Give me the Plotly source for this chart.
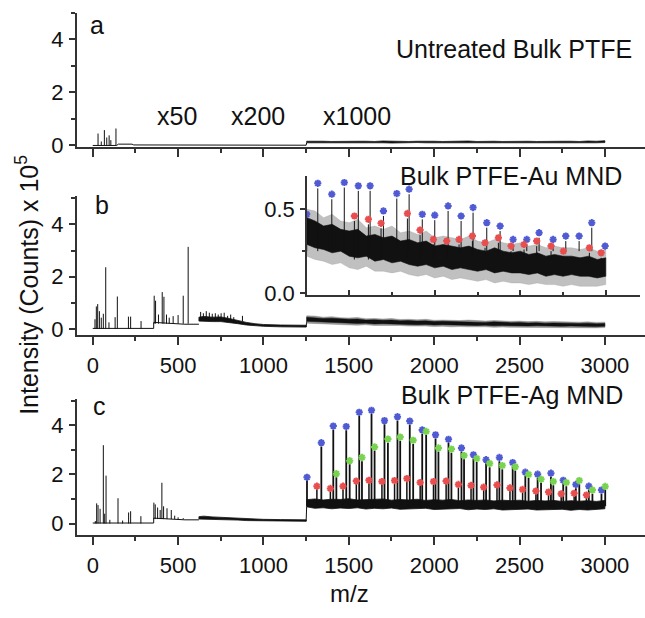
import plotly.graph_objects as go

W, H = 645, 618

# ---------------- data ----------------
# common m/z grid for noisy high-mass segments (x1000 region)
hm_mz = [1253, 1300, 1350, 1400, 1450, 1500, 1550, 1600, 1650, 1700, 1750, 1800,
         1850, 1900, 1950, 2000, 2050, 2100, 2150, 2200, 2250, 2300, 2350, 2400,
         2450, 2500, 2550, 2600, 2650, 2700, 2750, 2800, 2850, 2900, 2950, 3000]

# mid-mass (x200) grid
mm_mz = [622, 650, 700, 750, 800, 850, 900, 950, 1000, 1100, 1200, 1250]

# --- panel a: untreated bulk PTFE ---
a_base_x = [0, 140, 150, 230, 240, 357, 362, 622, 628, 1250]
a_base_y = [0.0, 0.0, 0.05, 0.05, 0.02, 0.02, 0.03, 0.03, 0.01, 0.01]
a_peak_mz = [31, 50, 68, 82, 96, 106, 136]
a_peak_h = [0.45, 0.15, 0.58, 0.30, 0.38, 0.20, 0.64]
a_hi = [0.16, 0.17, 0.16, 0.15, 0.16, 0.17, 0.16, 0.16, 0.15, 0.17, 0.16, 0.16,
        0.15, 0.16, 0.17, 0.16, 0.15, 0.16, 0.16, 0.17, 0.15, 0.16, 0.16, 0.15,
        0.16, 0.17, 0.16, 0.15, 0.16, 0.17, 0.16, 0.16, 0.15, 0.17, 0.16, 0.18]
a_lo = [0.10, 0.10, 0.11, 0.10, 0.09, 0.10, 0.10, 0.11, 0.10, 0.10, 0.09, 0.10,
        0.10, 0.11, 0.10, 0.09, 0.10, 0.10, 0.11, 0.10, 0.10, 0.09, 0.10, 0.10,
        0.11, 0.10, 0.10, 0.09, 0.10, 0.10, 0.11, 0.10, 0.10, 0.09, 0.10, 0.11]

# --- panel b: bulk PTFE-Au MND ---
b_base_x = [0, 357, 357, 450, 540, 622]
b_base_y = [0.02, 0.02, 0.25, 0.20, 0.18, 0.18]
b_peak_mz = [13, 21, 29, 39, 50, 62, 76, 95, 131, 144, 209, 222, 283,
             360, 368, 385, 407, 417, 432, 448, 471, 500, 530, 559,
             632, 648, 665, 683, 700, 718, 735, 752, 770, 790, 808, 826, 877]
b_peak_h = [0.37, 0.86, 0.95, 0.68, 0.43, 0.58, 2.36, 0.25, 0.45, 1.24, 0.47, 0.47, 0.30,
            1.27, 1.08, 0.55, 1.41, 1.23, 0.55, 0.43, 0.49, 0.53, 1.27, 3.14,
            0.65, 0.60, 0.68, 0.62, 0.58, 0.60, 0.55, 0.60, 0.62, 0.50, 0.55, 0.45, 0.50]
b_mm_lo = [0.30, 0.30, 0.28, 0.28, 0.25, 0.20, 0.15, 0.12, 0.10, 0.08, 0.07, 0.07]
b_mm_hi = [0.45, 0.48, 0.45, 0.46, 0.40, 0.32, 0.25, 0.20, 0.17, 0.15, 0.14, 0.14]

# high-mass Au spectrum (shown in panel b and in the inset)
au_core_lo = [0.29, 0.27, 0.26, 0.24, 0.25, 0.22, 0.21, 0.22, 0.19, 0.20, 0.18, 0.19,
              0.17, 0.16, 0.17, 0.15, 0.16, 0.14, 0.15, 0.14, 0.13, 0.14, 0.12, 0.13,
              0.12, 0.12, 0.11, 0.12, 0.10, 0.11, 0.10, 0.11, 0.10, 0.10, 0.09, 0.10]
au_core_hi = [0.45, 0.43, 0.40, 0.41, 0.38, 0.37, 0.38, 0.34, 0.35, 0.33, 0.34, 0.31,
              0.32, 0.30, 0.31, 0.28, 0.29, 0.28, 0.27, 0.28, 0.26, 0.25, 0.27, 0.25,
              0.24, 0.25, 0.23, 0.24, 0.22, 0.23, 0.22, 0.22, 0.21, 0.22, 0.20, 0.21]
au_grey_lo = [0.22, 0.20, 0.19, 0.17, 0.18, 0.15, 0.14, 0.16, 0.13, 0.13, 0.12, 0.13,
              0.11, 0.10, 0.11, 0.09, 0.10, 0.08, 0.09, 0.08, 0.07, 0.08, 0.06, 0.07,
              0.06, 0.06, 0.05, 0.06, 0.05, 0.05, 0.04, 0.05, 0.04, 0.04, 0.04, 0.05]
au_grey_hi = [0.50, 0.49, 0.45, 0.47, 0.43, 0.42, 0.44, 0.39, 0.40, 0.38, 0.40, 0.36,
              0.37, 0.35, 0.37, 0.33, 0.34, 0.33, 0.32, 0.34, 0.31, 0.30, 0.32, 0.30,
              0.29, 0.30, 0.28, 0.29, 0.27, 0.28, 0.27, 0.27, 0.26, 0.27, 0.25, 0.26]
au_blue_mz = [1251, 1316, 1398, 1471, 1553, 1622, 1700, 1778, 1850, 1927, 2000, 2078,
              2154, 2224, 2304, 2382, 2458, 2538, 2610, 2692, 2766, 2844, 2918, 2996]
au_blue_y = [0.47, 0.655, 0.59, 0.66, 0.64, 0.64, 0.49, 0.594, 0.62, 0.47, 0.465, 0.52,
             0.46, 0.51, 0.42, 0.40, 0.32, 0.32, 0.36, 0.32, 0.34, 0.34, 0.42, 0.28]
au_red_mz = [1530, 1612, 1686, 1840, 1914, 1992, 2070, 2142, 2220, 2294, 2372, 2446,
             2522, 2596, 2680, 2752, 2904, 2973]
au_red_y = [0.46, 0.44, 0.416, 0.475, 0.376, 0.32, 0.31, 0.32, 0.34, 0.30, 0.33, 0.28,
            0.29, 0.31, 0.28, 0.25, 0.27, 0.24]

# --- panel c: bulk PTFE-Ag MND ---
c_base_x = [0, 357, 357, 450, 540, 622]
c_base_y = [0.02, 0.02, 0.22, 0.18, 0.15, 0.15]
c_peak_mz = [15, 23, 31, 43, 62, 70, 78, 100, 148, 175, 210, 222, 282,
             358, 366, 380, 395, 405, 415, 435, 460, 480, 500, 530]
c_peak_h = [0.10, 0.82, 0.75, 0.60, 3.19, 0.40, 1.95, 0.15, 1.03, 0.12, 0.45, 0.50, 0.30,
            0.85, 0.78, 0.65, 0.55, 1.66, 0.70, 0.62, 0.55, 0.32, 0.25, 0.22]
c_mm_lo = [0.18, 0.20, 0.18, 0.17, 0.15, 0.14, 0.12, 0.11, 0.10, 0.10, 0.09, 0.09]
c_mm_hi = [0.28, 0.30, 0.27, 0.25, 0.23, 0.21, 0.19, 0.18, 0.17, 0.16, 0.16, 0.15]
ag_lo = [0.68, 0.62, 0.64, 0.60, 0.63, 0.61, 0.64, 0.59, 0.62, 0.60, 0.63, 0.58,
         0.61, 0.60, 0.62, 0.57, 0.60, 0.59, 0.61, 0.56, 0.59, 0.57, 0.60, 0.55,
         0.58, 0.57, 0.59, 0.55, 0.57, 0.56, 0.58, 0.54, 0.57, 0.55, 0.56, 0.60]
ag_hi = [0.97, 1.00, 0.96, 0.99, 0.98, 1.01, 0.96, 0.98, 0.97, 1.00, 0.95, 0.98,
         0.96, 0.99, 0.94, 0.97, 0.95, 0.98, 0.93, 0.96, 0.94, 0.96, 0.92, 0.95,
         0.93, 0.95, 0.91, 0.94, 0.92, 0.94, 0.90, 0.93, 0.91, 0.93, 0.90, 0.94]
ag_blue_mz = [1255, 1339, 1409, 1485, 1561, 1633, 1709, 1785, 1857, 1930, 2008, 2084,
              2160, 2230, 2304, 2382, 2460, 2534, 2606, 2684, 2756, 2830, 2906, 2980]
ag_blue_y = [1.88, 3.29, 3.97, 3.95, 4.53, 4.61, 4.19, 4.35, 4.17, 3.81, 3.61, 3.43,
             3.08, 2.80, 2.60, 2.69, 2.48, 2.09, 2.01, 2.05, 1.76, 1.59, 1.52, 1.36]
ag_green_mz = [1427, 1505, 1577, 1651, 1729, 1801, 1877, 1953, 2025, 2101, 2175, 2249,
               2325, 2399, 2475, 2553, 2626, 2698, 2774, 2850, 2927, 3002]
ag_green_y = [2.03, 2.56, 2.69, 3.12, 3.44, 3.52, 3.39, 3.75, 3.08, 3.03, 2.77, 2.65,
              2.44, 2.36, 2.31, 2.00, 1.80, 1.71, 1.67, 1.75, 1.36, 1.51]
ag_red_mz = [1313, 1392, 1466, 1544, 1618, 1694, 1768, 1840, 1918, 1996, 2070, 2142,
             2216, 2290, 2368, 2444, 2518, 2596, 2670, 2744, 2820, 2892]
ag_red_y = [1.52, 1.43, 1.52, 1.73, 1.76, 1.71, 1.75, 1.83, 1.67, 1.71, 1.73, 1.59,
            1.55, 1.48, 1.57, 1.45, 1.39, 1.32, 1.28, 1.21, 1.23, 1.16]

x_ticks = [0, 500, 1000, 1500, 2000, 2500, 3000]

# ---------------- colours / styles ----------------
BLUE = "rgb(80,90,210)"
RED = "rgb(232,78,78)"
GREEN = "rgb(120,212,80)"
INK = "#111111"
AX = "#333333"
FONT = "Liberation Sans, Arial, sans-serif"

fig = go.Figure()


def line(xa, ya, xs, ys, width=1.0, color=INK):
    fig.add_trace(go.Scatter(x=xs, y=ys, mode="lines", xaxis=xa, yaxis=ya,
                             line=dict(color=color, width=width), hoverinfo="skip",
                             showlegend=False))


def band(xa, ya, mz, lo, hi, color, width=0.8):
    xs = list(mz) + list(mz)[::-1] + [mz[0]]
    ys = list(hi) + list(lo)[::-1] + [hi[0]]
    fig.add_trace(go.Scatter(x=xs, y=ys, mode="lines", fill="toself", fillcolor=color,
                             xaxis=xa, yaxis=ya, line=dict(color=color, width=width),
                             hoverinfo="skip", showlegend=False))


def sticks(xa, ya, mz, bottoms, tops, width=1.0, color=INK):
    xs, ys = [], []
    for m, b, t in zip(mz, bottoms, tops):
        xs += [m, m, None]
        ys += [b, t, None]
    line(xa, ya, xs, ys, width, color)


def stars(xa, ya, mz, yv, color, size=6):
    fig.add_trace(go.Scatter(x=mz, y=yv, mode="markers", xaxis=xa, yaxis=ya,
                             marker=dict(symbol="asterisk-open", size=size, color=color,
                                         line=dict(color=color, width=2)),
                             hoverinfo="skip", showlegend=False))


def seg_bottom(m, levels):
    # baseline level of the segment a peak sits in (styling only)
    if m < 357:
        return levels[0]
    if m < 622:
        return levels[1]
    if m < 1250:
        return levels[2]
    return levels[3]


# ---------------- panel a ----------------
line("x", "y", a_base_x + [1253], a_base_y + [a_lo[0]], 1.0)
sticks("x", "y", a_peak_mz, [0] * len(a_peak_mz), a_peak_h, 1.0)
band("x", "y", hm_mz, a_lo, a_hi, INK, 0.7)

# ---------------- panel b ----------------
line("x2", "y2", b_base_x, b_base_y, 1.0)
band("x2", "y2", mm_mz, b_mm_lo, b_mm_hi, INK, 0.8)
line("x2", "y2", [1250, 1253], [b_mm_lo[-1], au_core_lo[0]], 1.0)
sticks("x2", "y2", b_peak_mz, [seg_bottom(m, [0.0, 0.2, 0.3, 0.3]) for m in b_peak_mz],
       b_peak_h, 1.0)
band("x2", "y2", hm_mz, au_grey_lo, au_grey_hi, "rgba(110,110,110,0.7)", 0.5)
band("x2", "y2", hm_mz, au_core_lo, au_core_hi, INK, 0.5)

# ---------------- inset ----------------
band("x4", "y4", hm_mz, au_grey_lo, au_grey_hi, "rgba(150,150,150,0.6)", 0.5)
band("x4", "y4", hm_mz, au_core_lo, au_core_hi, INK, 0.6)
sticks("x4", "y4", au_blue_mz, [0.25] * len(au_blue_mz), [v - 0.03 for v in au_blue_y], 1.0)
sticks("x4", "y4", au_red_mz, [0.2] * len(au_red_mz), [v - 0.03 for v in au_red_y], 1.0)
stars("x4", "y4", au_blue_mz, au_blue_y, BLUE, 6)
stars("x4", "y4", au_red_mz, au_red_y, RED, 6)

# ---------------- panel c ----------------
line("x3", "y3", c_base_x, c_base_y, 1.0)
band("x3", "y3", mm_mz, c_mm_lo, c_mm_hi, INK, 0.8)
line("x3", "y3", [1250, 1253], [c_mm_lo[-1], ag_lo[0]], 1.0)
sticks("x3", "y3", c_peak_mz, [seg_bottom(m, [0.0, 0.18, 0.15, 0.6]) for m in c_peak_mz],
       c_peak_h, 1.0)
band("x3", "y3", hm_mz, ag_lo, ag_hi, INK, 0.8)
sticks("x3", "y3", ag_blue_mz, [0.7] * len(ag_blue_mz), [v - 0.15 for v in ag_blue_y], 1.8)
sticks("x3", "y3", ag_green_mz, [0.7] * len(ag_green_mz), [v - 0.15 for v in ag_green_y], 1.8)
sticks("x3", "y3", ag_red_mz, [0.7] * len(ag_red_mz), [v - 0.12 for v in ag_red_y], 1.5)
stars("x3", "y3", ag_blue_mz, ag_blue_y, BLUE, 6)
stars("x3", "y3", ag_green_mz, ag_green_y, GREEN, 6)
stars("x3", "y3", ag_red_mz, ag_red_y, RED, 6)


# ---------------- axes ----------------
def py(px):
    return 1 - px / H


def px_(px):
    return px / W


tickfont = dict(family=FONT, size=22, color="#111")
XR = [-94, 3235]
xdom = [px_(76.7), 1.0]


def xax(show_labels, anchor):
    return dict(domain=xdom, range=XR, anchor=anchor, showline=True, linecolor=AX,
                linewidth=1.5, ticks="outside", ticklen=8, tickwidth=1.5, tickcolor=AX,
                tickvals=x_ticks, showticklabels=show_labels, tickfont=tickfont,
                showgrid=False, zeroline=False, ticklabelstandoff=2,
                minor=dict(ticks="outside", ticklen=4, tickwidth=1.5, tickcolor=AX,
                           dtick=250, tick0=0, showgrid=False))


def yax(dom, rng, anchor):
    return dict(domain=dom, range=rng, anchor=anchor, showline=True, linecolor=AX,
                linewidth=1.5, ticks="outside", ticklen=6, tickwidth=1.5, tickcolor=AX,
                tickvals=[0, 2, 4], tickfont=tickfont, showgrid=False, zeroline=False,
                ticklabelstandoff=1,
                minor=dict(ticks="outside", ticklen=4, tickwidth=1.5, tickcolor=AX,
                           dtick=1, tick0=0, showgrid=False))


fig.update_layout(
    width=W, height=H, margin=dict(l=0, r=0, t=0, b=0),
    paper_bgcolor="white", plot_bgcolor="rgba(0,0,0,0)", showlegend=False,
    xaxis=xax(False, "y"),
    yaxis=yax([py(150), py(13)], [-0.07, 5.0], "x"),
    xaxis2=xax(True, "y2"),
    yaxis2=yax([py(341), py(200)], [-0.23, 5.07], "x2"),
    xaxis3=xax(True, "y3"),
    yaxis3=yax([py(545), py(406)], [-0.48, 5.08], "x3"),
    xaxis4=dict(domain=[px_(307), px_(640)], range=[1253, 3200], anchor="y4",
                showline=True, linecolor=AX, linewidth=1.5, ticks="inside", ticklen=5,
                tickwidth=1.5, tickcolor=AX, tickvals=x_ticks[3:], showticklabels=False,
                showgrid=False, zeroline=False,
                minor=dict(ticks="inside", ticklen=3, tickwidth=1.5, tickcolor=AX,
                           dtick=250, tick0=0, showgrid=False)),
    yaxis4=dict(domain=[py(300), py(179)], range=[-0.01, 0.70], anchor="x4",
                showline=True, linecolor=AX, linewidth=1.5, ticks="outside", ticklen=5,
                tickwidth=1.5, tickcolor=AX, tickvals=[0.0, 0.5], tickformat=".1f",
                tickfont=tickfont, showgrid=False, zeroline=False, ticklabelstandoff=1,
                minor=dict(ticks="outside", ticklen=3, tickwidth=1.5, tickcolor=AX,
                           dtick=0.25, tick0=0, showgrid=False)),
)


def text(t, x, y, size=25, xanchor="left", angle=0):
    fig.add_annotation(text=t, x=px_(x), y=py(y), xref="paper", yref="paper",
                       xanchor=xanchor, yanchor="middle", showarrow=False,
                       textangle=angle, font=dict(family=FONT, size=size, color="#111"))


text("a", 88, 25)
text("b", 93, 209)
text("c", 91, 413)
text("Untreated Bulk PTFE", 634, 50, xanchor="right")
text("x50", 155, 118)
text("x200", 229, 118)
text("x1000", 321, 118)
text("Bulk PTFE-Au MND", 624, 179, xanchor="right")
text("Bulk PTFE-Ag MND", 625, 402, xanchor="right")
text("m/z", 349, 604, size=24, xanchor="center")
text("Intensity (Counts) x 10<sup>5</sup>", 27, 290, size=25, xanchor="center", angle=-90)

fig.write_html("out.html")
